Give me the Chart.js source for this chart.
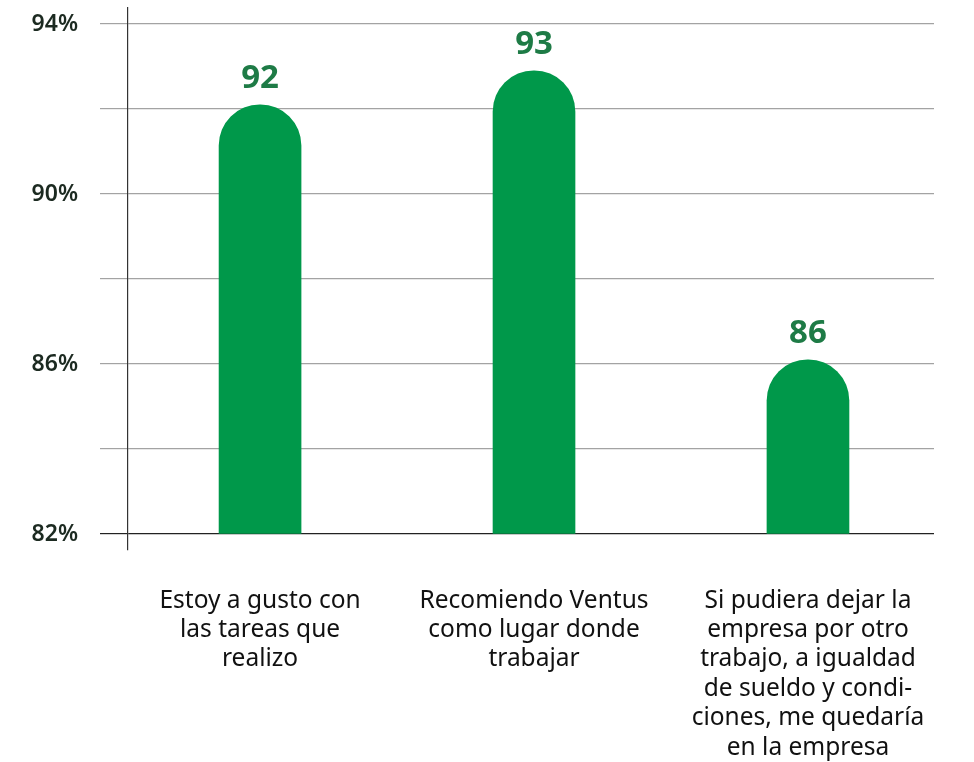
<!DOCTYPE html>
<html>
<head>
<meta charset="utf-8">
<script src="https://cdn.jsdelivr.net/npm/chart.js@4/dist/chart.umd.min.js"></script>
<style>
  html, body { margin: 0; padding: 0; background: #ffffff; }
  #wrap { width: 974px; height: 762px; position: relative; }
</style>
</head>
<body>
<div id="wrap"><canvas id="c" width="974" height="762"></canvas></div>
<script>
const categories = [
  "Estoy a gusto con las tareas que realizo",
  "Recomiendo Ventus como lugar donde trabajar",
  "Si pudiera dejar la empresa por otro trabajo, a igualdad de sueldo y condiciones, me quedaría en la empresa"
];
const tickLabels = [
  ["Estoy a gusto con", "las tareas que", "realizo"],
  ["Recomiendo Ventus", "como lugar donde", "trabajar"],
  ["Si pudiera dejar la", "empresa por otro", "trabajo, a igualdad", "de sueldo y condi-", "ciones, me quedaría", "en la empresa"]
];
const values = [92.1, 92.9, 86.1];
const valueLabels = ["92", "93", "86"];
const yTicks = [82, 84, 86, 88, 90, 92, 94];
const yLabelled = [82, 86, 90, 94];

const FONT = "'Noto Sans', 'Open Sans', sans-serif";

const labelPlugin = {
  id: 'valueLabels',
  afterDatasetsDraw(chart) {
    const ctx = chart.ctx;
    const meta = chart.getDatasetMeta(0);
    ctx.save();
    ctx.fillStyle = '#1e7b46';
    ctx.font = "bold 33px " + FONT;
    ctx.textAlign = 'center';
    ctx.textBaseline = 'alphabetic';
    meta.data.forEach((bar, i) => {
      ctx.fillText(valueLabels[i], bar.x, bar.y - 17);
    });
    ctx.restore();
  }
};

new Chart(document.getElementById('c'), {
  type: 'bar',
  data: {
    datasets: [{
      label: 'Porcentaje',
      data: values.map((v, i) => ({ x: i + 1, y: v })),
      backgroundColor: '#00984a',
      borderWidth: 0,
      borderRadius: 41,
      borderSkipped: 'start',
      barThickness: 82,
      base: 82
    }]
  },
  options: {
    responsive: false,
    animation: false,
    devicePixelRatio: 1,
    layout: { padding: { top: 8, right: 40, left: 0, bottom: 0 } },
    plugins: {
      legend: { display: false },
      tooltip: { enabled: false }
    },
    scales: {
      x: {
        type: 'linear',
        offset: false,
        min: 0.518,
        max: 3.46,
        grid: { display: false, drawTicks: false },
        border: { display: false },
        afterBuildTicks(scale) {
          scale.ticks = categories.map((c, i) => ({ value: i + 1 }));
        },
        afterFit(scale) {
          scale.height = 212;
          scale.paddingLeft = 0;
          scale.paddingRight = 0;
        },
        ticks: {
          autoSkip: false,
          maxRotation: 0,
          minRotation: 0,
          padding: 36,
          color: '#111111',
          font: { family: FONT, size: 24.5, lineHeight: 1.2 },
          callback: (v) => tickLabels[Math.round(v) - 1] || ''
        }
      },
      y: {
        min: 81.624,
        max: 94.376,
        afterBuildTicks(scale) {
          scale.ticks = yTicks.map(v => ({ value: v }));
        },
        afterFit(scale) {
          scale.width = 128;
          scale.paddingTop = 0;
          scale.paddingBottom = 0;
        },
        grid: {
          color: (c) => (c.tick && c.tick.value === 82) ? '#222222' : '#a3a3a3',
          lineWidth: 1.2,
          tickLength: 28,
          drawTicks: true
        },
        border: { display: true, color: '#333333', width: 1.2 },
        ticks: {
          padding: 22,
          color: '#1c2a21',
          font: { family: FONT, size: 23, weight: '600' },
          callback: (v) => yLabelled.includes(v) ? v + '%' : ''
        }
      }
    }
  },
  plugins: [labelPlugin]
});
</script>
</body>
</html>
